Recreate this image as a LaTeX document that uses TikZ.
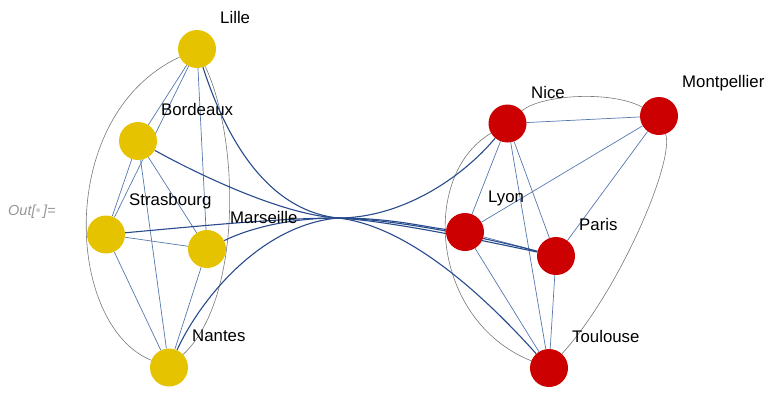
\documentclass[tikz,border=0pt]{standalone}
\usepackage{fontspec}
\setmainfont{Liberation Sans}
\usetikzlibrary{backgrounds}
\definecolor{cyellow}{RGB}{230,195,0}
\definecolor{cred}{RGB}{204,0,0}
\definecolor{thinblue}{RGB}{85,120,175}
\definecolor{darkblue}{RGB}{40,75,140}
\definecolor{hullgray}{RGB}{120,120,120}
\definecolor{outgray}{RGB}{150,150,150}
\definecolor{dotgray}{RGB}{205,205,205}
\begin{document}
\begin{tikzpicture}[x=1pt,y=-1pt,
  city/.style={circle,minimum size=38pt,inner sep=0pt,draw=none},
  ycity/.style={city,fill=cyellow},
  rcity/.style={city,fill=cred},
  lab/.style={anchor=base west,inner sep=0pt,font=\fontsize{16.8}{18}\selectfont},
  edgeb/.style={draw=thinblue,line width=0.7pt},
  bund/.style={draw=darkblue,line width=1.1pt},
  hull/.style={draw=hullgray,line width=0.6pt}]
\useasboundingbox (0,0) rectangle (768,392);
% nodes
\node[ycity] (lille) at (197,49) {};
\node[ycity] (bordeaux) at (138,141) {};
\node[ycity] (strasbourg) at (106,234.5) {};
\node[ycity] (marseille) at (207,249) {};
\node[ycity] (nantes) at (169,367.5) {};
\node[rcity] (nice) at (507.5,123.5) {};
\node[rcity] (montpellier) at (659,116) {};
\node[rcity] (lyon) at (465,232) {};
\node[rcity] (paris) at (556,256) {};
\node[rcity] (toulouse) at (549,368) {};
\coordinate (hub) at (338,218);
% labels
\node[lab] (lille-l) at (220,23) {Lille};
\node[lab] (bordeaux-l) at (161,115) {Bordeaux};
\node[lab] (strasbourg-l) at (129,205) {Strasbourg};
\node[lab] (marseille-l) at (230,223) {Marseille};
\node[lab] (nantes-l) at (192,341.5) {Nantes};
\node[lab] (nice-l) at (531,98) {Nice};
\node[lab] (montpellier-l) at (682,87) {Montpellier};
\node[lab] (lyon-l) at (488,202) {Lyon};
\node[lab] (paris-l) at (579,230) {Paris};
\node[lab] (toulouse-l) at (572,342) {Toulouse};
\node[anchor=base west,inner sep=0pt,text=outgray,font=\fontsize{14.5}{16}\selectfont\itshape] (out) at (8,215) {Out[{\color{dotgray}\textbullet}\,]=};
\begin{scope}[on background layer]
% gray hull curves
\draw[hull] (lille) .. controls (55,115) and (65,325) .. (nantes);
\draw[hull] (lille) .. controls (240,140) and (242,300) .. (nantes);
\draw[hull] (nice) .. controls (420,175) and (430,320) .. (toulouse);
\draw[hull] (nice) .. controls (540,95) and (610,90) .. (montpellier);
\draw[hull] (montpellier) .. controls (675,160) and (620,290) .. (toulouse);
% thin edges, left cluster
\draw[edgeb] (lille) -- (bordeaux);
\draw[edgeb] (lille) -- (strasbourg);
\draw[edgeb] (lille) -- (marseille);
\draw[edgeb] (bordeaux) -- (strasbourg);
\draw[edgeb] (bordeaux) -- (marseille);
\draw[edgeb] (bordeaux) -- (nantes);
\draw[edgeb] (strasbourg) -- (marseille);
\draw[edgeb] (strasbourg) -- (nantes);
\draw[edgeb] (marseille) -- (nantes);
% thin edges, right cluster
\draw[edgeb] (nice) -- (montpellier);
\draw[edgeb] (nice) -- (lyon);
\draw[edgeb] (nice) -- (paris);
\draw[edgeb] (nice) -- (toulouse);
\draw[edgeb] (montpellier) -- (lyon);
\draw[edgeb] (montpellier) -- (paris);
\draw[edgeb] (lyon) -- (paris);
\draw[edgeb] (lyon) -- (toulouse);
\draw[edgeb] (paris) -- (toulouse);
% bundled edges
\draw[bund] (lille) .. controls (225,135) and (265,210) .. (hub);
\draw[bund] (bordeaux) .. controls (190,170) and (280,215) .. (hub);
\draw[bund] (strasbourg) .. controls (200,226) and (280,218) .. (hub);
\draw[bund] (marseille) .. controls (250,228) and (290,218) .. (hub);
\draw[bund] (nantes) .. controls (200,300) and (260,225) .. (hub);
\draw[bund] (hub) .. controls (400,218) and (460,180) .. (nice);
\draw[bund] (hub) .. controls (390,218) and (420,226) .. (lyon);
\draw[bund] (hub) .. controls (390,219) and (470,234) .. (paris);
\draw[bund] (hub) .. controls (390,221) and (480,240) .. (paris);
\draw[bund] (hub) .. controls (400,225) and (470,280) .. (toulouse);
\end{scope}
\end{tikzpicture}
\end{document}
